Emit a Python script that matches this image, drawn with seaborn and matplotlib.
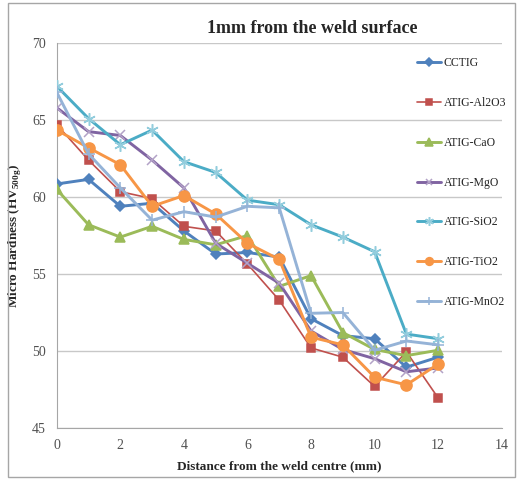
import pandas as pd
import matplotlib.pyplot as plt
import seaborn as sns
from matplotlib.patches import Rectangle

# === data ===
distance = [0, 1, 2, 3, 4, 5, 6, 7, 8, 9, 10, 11, 12]
cctig = [60.85, 61.15, 59.4, 59.6, 57.8, 56.3, 56.4, 56.1, 52.1, 51.0, 50.8, 48.95, 49.6]
al2o3 = [64.7, 62.4, 60.35, 59.9, 58.1, 57.8, 55.65, 53.3, 50.2, 49.6, 47.7, 49.95, 46.95]
cao = [60.5, 58.2, 57.4, 58.1, 57.25, 56.9, 57.5, 54.2, 54.9, 51.2, 50.1, 49.7, 50.05]
mgo = [65.8, 64.25, 64.0, 62.4, 60.6, 57.0, 55.7, 54.4, 51.3, 50.1, 49.5, 48.65, 48.9]
sio2 = [67.2, 65.1, 63.4, 64.35, 62.3, 61.6, 59.8, 59.5, 58.2, 57.4, 56.45, 51.1, 50.8]
tio2 = [64.35, 63.2, 62.1, 59.4, 60.1, 58.9, 57.0, 55.95, 50.9, 50.4, 48.3, 47.8, 49.15]
mno2 = [66.8, 62.8, 60.6, 58.5, 59.05, 58.7, 59.4, 59.3, 52.45, 52.5, 50.05, 50.65, 50.4]

series_names = ["CCTIG", "ATIG-Al2O3", "ATIG-CaO", "ATIG-MgO", "ATIG-SiO2", "ATIG-TiO2", "ATIG-MnO2"]
series_values = [cctig, al2o3, cao, mgo, sio2, tio2, mno2]

x_ticks = [0, 2, 4, 6, 8, 10, 12, 14]
y_ticks = [45, 50, 55, 60, 65, 70]

df = pd.DataFrame({"distance": distance * len(series_names),
                   "hardness": [v for vals in series_values for v in vals],
                   "series": [n for n in series_names for _ in distance]})

# === styles (Excel 2007 palette) ===
styles = {
    "CCTIG":      dict(color="#4F81BD", marker="D", ms=5.5, lw=2.1, mfc="#4F81BD"),
    "ATIG-Al2O3": dict(color="#C0504D", marker="s", ms=5.5, lw=1.2, mfc="#C0504D"),
    "ATIG-CaO":   dict(color="#9BBB59", marker="^", ms=7.5, lw=2.1, mfc="#9BBB59"),
    "ATIG-MgO":   dict(color="#8064A2", marker="x", ms=7, lw=2.1, mfc="#B3A2C7"),
    "ATIG-SiO2":  dict(color="#4BACC6", marker=(6, 2, 0), ms=9, lw=2.1, mfc="#93CDDD"),
    "ATIG-TiO2":  dict(color="#F79646", marker="o", ms=8, lw=2.1, mfc="#F79646"),
    "ATIG-MnO2":  dict(color="#95B3D7", marker="+", ms=9, lw=2.1, mfc="#95B3D7"),
}

sns.set_style("white")
plt.rcParams['font.family'] = ['Liberation Serif', 'DejaVu Serif']

fig = plt.figure(figsize=(5.21, 4.79), dpi=100)
ax = fig.add_axes([0.109, 0.1065, 0.854, 0.8035])

for name in series_names:
    st = styles[name]
    sub = df[df["series"] == name]
    sns.lineplot(data=sub, x="distance", y="hardness", ax=ax, color=st["color"],
                 linewidth=st["lw"], marker=st["marker"], markersize=st["ms"],
                 markerfacecolor=st["mfc"], markeredgecolor=st["mfc"],
                 markeredgewidth=1.1, label=name, zorder=3)

ax.set_xlim(0, 14)
ax.set_ylim(45, 70)
ax.set_xticks(x_ticks)
ax.set_yticks(y_ticks)
ax.grid(axis="y", color="#C8C8C8", linewidth=1)
ax.set_axisbelow(True)
for side in ["top", "right"]:
    ax.spines[side].set_visible(False)
for side in ["left", "bottom"]:
    ax.spines[side].set_color("#A6A6A6")
ax.tick_params(axis="both", length=0, labelsize=10, colors="#505050", pad=8)

ax.set_xlabel("Distance from the weld centre (mm)", fontsize=9.5, fontweight="bold", labelpad=6)
ax.set_ylabel("Micro Hardness (HV$_{\\mathregular{500g}}$)", fontsize=9.5, fontweight="bold", labelpad=6)

fig.text(0.60, 0.94, "1mm from the weld surface", ha="center", va="center",
         fontsize=13, fontweight="bold")

leg = ax.legend(loc="upper left", bbox_to_anchor=(0.80, 0.975), frameon=False,
                fontsize=8.5, labelspacing=2.35, handlelength=2.0, handletextpad=0.2,
                borderaxespad=0)
for h in leg.legend_handles:
    h.set_markersize(h.get_markersize() * 0.7)

fig.patches.append(Rectangle((0.016, 0.004), 0.972, 0.99, transform=fig.transFigure,
                             fill=False, edgecolor="#A6A6A6", linewidth=1))

fig.savefig("out.png", dpi=100)
